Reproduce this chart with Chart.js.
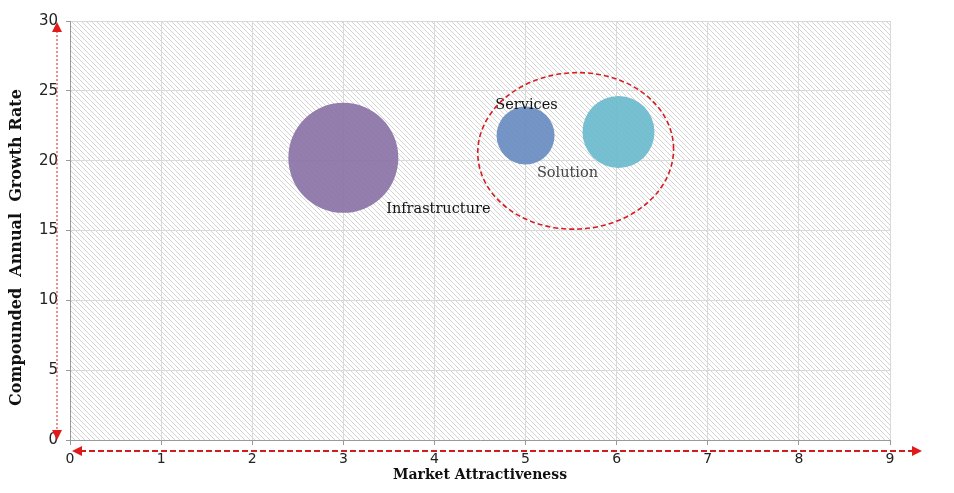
<!DOCTYPE html>
<html>
<head>
<meta charset="utf-8">
<script src="https://cdn.jsdelivr.net/npm/chart.js@4/dist/chart.umd.min.js"></script>
<style>
  body { margin: 0; background: #fff; }
  canvas { display: block; }
</style>
</head>
<body>
<canvas id="chartId" width="954" height="493"></canvas>
<script>
var segments = ["Infrastructure", "Services", "Solution"];
var attractiveness = [3, 5, 6.02];
var growth = [20.2, 21.8, 22.05];
var bubbleSize = [55, 29, 36];
var xTicks = [0, 1, 2, 3, 4, 5, 6, 7, 8, 9];
var yTicks = [0, 5, 10, 15, 20, 25, 30];
var yTitle = "Compounded  Annual  Growth Rate";

var colors = ["rgba(135,112,165,0.9)", "rgba(102,137,192,0.9)", "rgba(104,185,204,0.9)"];
var labelColors = ["#111", "#111", "#444"];
// label offset from bubble centre, px
var labelOffset = [[95, 51], [1, -30], [-51, 41]];

// dashed ellipse around services + solution (data units)
var ringCenter = [5.55, 20.7];
var ringRadius = [1.075, 5.6];

function makeHatch(ctx) {
  var c = document.createElement("canvas");
  c.width = 5; c.height = 5;
  var g = c.getContext("2d");
  g.strokeStyle = "#d4d4d4";
  g.lineWidth = 1;
  g.beginPath();
  g.moveTo(0, 0); g.lineTo(5, 5);
  g.moveTo(-1, 4); g.lineTo(1, 6);
  g.moveTo(4, -1); g.lineTo(6, 1);
  g.stroke();
  return ctx.createPattern(c, "repeat");
}

function arrowHead(ctx, x, y, dir, size) {
  // dir: "up","down","left","right" -> tip at x,y
  ctx.beginPath();
  ctx.moveTo(x, y);
  if (dir === "up") { ctx.lineTo(x - size / 2, y + size); ctx.lineTo(x + size / 2, y + size); }
  if (dir === "down") { ctx.lineTo(x - size / 2, y - size); ctx.lineTo(x + size / 2, y - size); }
  if (dir === "left") { ctx.lineTo(x + size, y - size / 2); ctx.lineTo(x + size, y + size / 2); }
  if (dir === "right") { ctx.lineTo(x - size, y - size / 2); ctx.lineTo(x - size, y + size / 2); }
  ctx.closePath();
  ctx.fill();
}

var decor = {
  id: "decor",
  beforeDraw: function (chart) {
    var ctx = chart.ctx;
    var a = chart.chartArea;
    ctx.save();
    ctx.fillStyle = makeHatch(ctx);
    ctx.fillRect(a.left, a.top, a.right - a.left, a.bottom - a.top);
    ctx.restore();
  },
  afterDatasetsDraw: function (chart) {
    var ctx = chart.ctx;
    var xs = chart.scales.x, ys = chart.scales.y;
    var meta = chart.getDatasetMeta(0);
    ctx.save();
    ctx.font = "14.5px 'DejaVu Serif'";
    ctx.textAlign = "center";
    ctx.textBaseline = "middle";
    for (var i = 0; i < segments.length; i++) {
      var el = meta.data[i];
      ctx.fillStyle = labelColors[i];
      ctx.fillText(segments[i], el.x + labelOffset[i][0], el.y + labelOffset[i][1]);
    }
    var cx = xs.getPixelForValue(ringCenter[0]);
    var cy = ys.getPixelForValue(ringCenter[1]);
    var rx = xs.getPixelForValue(ringCenter[0] + ringRadius[0]) - cx;
    var ry = cy - ys.getPixelForValue(ringCenter[1] + ringRadius[1]);
    ctx.strokeStyle = "#d81e22";
    ctx.lineWidth = 1.6;
    ctx.setLineDash([5, 3]);
    ctx.beginPath();
    ctx.ellipse(cx, cy, rx, ry, -0.05, 0, Math.PI * 2);
    ctx.stroke();
    ctx.restore();
  },
  afterDraw: function (chart) {
    var ctx = chart.ctx;
    var a = chart.chartArea;
    ctx.save();
    // y axis title (drawn here so it can sit a bit below centre like the original)
    ctx.save();
    ctx.translate(17, (a.top + a.bottom) / 2 + 17);
    ctx.rotate(-Math.PI / 2);
    ctx.font = "bold 16px 'DejaVu Serif'";
    ctx.fillStyle = "#111";
    ctx.textAlign = "center";
    ctx.textBaseline = "middle";
    ctx.fillText(yTitle, 0, 0);
    ctx.restore();
    // vertical dotted arrow
    var vx = a.left - 13;
    ctx.strokeStyle = "rgba(225,50,50,0.85)";
    ctx.fillStyle = "#e31a1a";
    ctx.lineWidth = 1.3;
    ctx.setLineDash([2, 2]);
    ctx.beginPath();
    ctx.moveTo(vx, a.top + 6);
    ctx.lineTo(vx, a.bottom - 6);
    ctx.stroke();
    ctx.setLineDash([]);
    arrowHead(ctx, vx, a.top + 1, "up", 10);
    arrowHead(ctx, vx, a.bottom, "down", 10);
    // horizontal dashed arrow
    var hy = a.bottom + 11;
    ctx.strokeStyle = "#d01c1c";
    ctx.lineWidth = 2.2;
    ctx.setLineDash([6, 3]);
    ctx.beginPath();
    ctx.moveTo(a.left + 10, hy);
    ctx.lineTo(a.right + 22, hy);
    ctx.stroke();
    ctx.setLineDash([]);
    arrowHead(ctx, a.left + 2, hy, "left", 10);
    arrowHead(ctx, a.right + 32, hy, "right", 10);
    ctx.restore();
  }
};

var points = [];
for (var i = 0; i < segments.length; i++) {
  points.push({ x: attractiveness[i], y: growth[i], r: bubbleSize[i] });
}

var chrt = document.getElementById("chartId").getContext("2d");
var chartId = new Chart(chrt, {
  type: "bubble",
  data: {
    datasets: [
      {
        label: "Segments",
        data: points,
        backgroundColor: colors,
        borderColor: colors,
        borderWidth: 0,
        hoverRadius: 0
      }
    ]
  },
  options: {
    responsive: false,
    animation: false,
    layout: { autoPadding: false, padding: { left: 0, right: 64, top: 21, bottom: 0 } },
    plugins: { legend: { display: false }, tooltip: { enabled: false } },
    scales: {
      x: {
        type: "linear",
        min: 0,
        max: 9,
        afterBuildTicks: function (scale) {
          scale.ticks = xTicks.map(function (v) { return { value: v }; });
        },
        afterFit: function (scale) { scale.height = 53; },
        grid: { color: "#d9d9d9", tickLength: 5, tickColor: "#999" },
        border: { color: "#999" },
        ticks: { color: "#222", padding: 6, font: { family: "DejaVu Sans", size: 14 } },
        title: {
          display: true,
          text: "Market Attractiveness",
          color: "#111",
          padding: { top: 0, bottom: 9 },
          font: { family: "DejaVu Serif", size: 14, weight: "bold" }
        }
      },
      y: {
        type: "linear",
        min: 0,
        max: 30,
        afterBuildTicks: function (scale) {
          scale.ticks = yTicks.map(function (v) { return { value: v }; });
        },
        afterFit: function (scale) { scale.width = 70; },
        grid: { color: "#d9d9d9", tickLength: 4, tickColor: "#999" },
        border: { color: "#999" },
        ticks: { color: "#222", padding: 8, font: { family: "DejaVu Sans", size: 15 } },
        title: { display: false }
      }
    }
  },
  plugins: [decor]
});
</script>
</body>
</html>
